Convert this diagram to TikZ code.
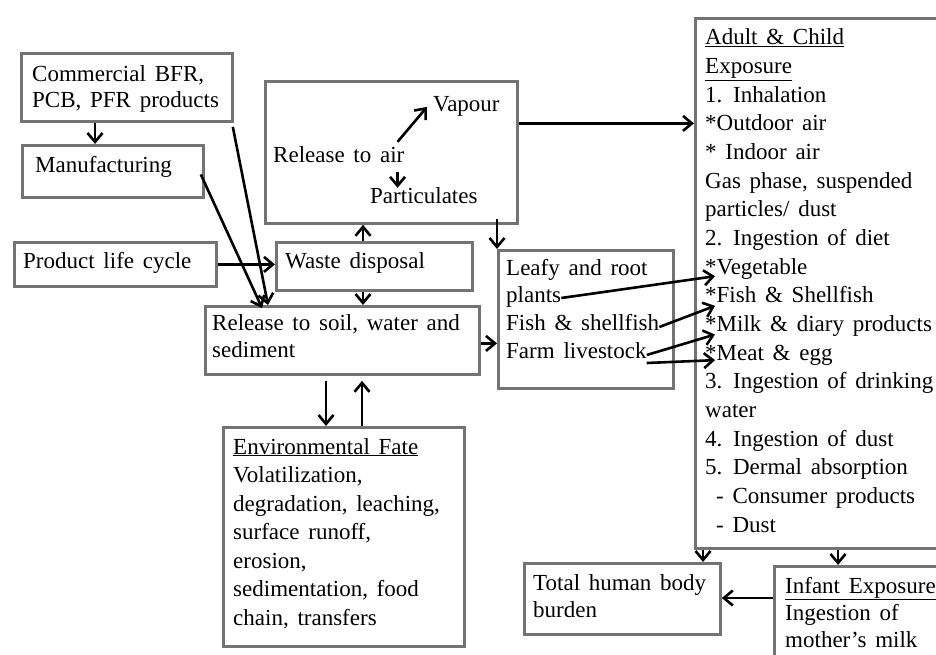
\documentclass[tikz,border=0pt]{standalone}
\usepackage{fontspec}
\setmainfont{Liberation Serif}
\usetikzlibrary{arrows.meta}
\tikzset{>={Straight Barb[length=9pt,width=15pt]}}
\newcommand\widesp{\spaceskip=0.38em\relax}

\begin{document}
\begin{tikzpicture}[x=1pt, y=-1pt,
  box/.style={draw=black!55, line width=2.8pt, anchor=north west, inner sep=0pt},
  txt/.style={anchor=base west, inner sep=0pt, align=left, font=\fontsize{23}{28.6}\selectfont\widesp},
  arr/.style={->, line width=2.6pt}]
  \useasboundingbox (0,0) rectangle (936,655);
  \clip (0,0) rectangle (936,655);
  % boxes
  \node[box, minimum width=211pt, minimum height=68pt] (commercial) at (20,52) {};
  \node[box, minimum width=181pt, minimum height=52pt] (manuf) at (21,144) {};
  \node[box, minimum width=202pt, minimum height=44pt] (product) at (13,241) {};
  \node[box, minimum width=252pt, minimum height=142pt] (air) at (264,80) {};
  \node[box, minimum width=196pt, minimum height=48pt] (waste) at (275,241) {};
  \node[box, minimum width=274pt, minimum height=68pt] (soil) at (204,305) {};
  \node[box, minimum width=241pt, minimum height=219pt] (envfate) at (222,426) {};
  \node[box, minimum width=175pt, minimum height=138pt] (leafy) at (497,249) {};
  \node[box, minimum width=260pt, minimum height=530pt] (adult) at (694,17) {};
  \node[box, minimum width=196pt, minimum height=71pt] (total) at (523,562) {};
  \node[box, minimum width=180pt, minimum height=110pt] (infant) at (773,565) {};
  % texts (multi-line nodes sit on their last baseline)
  \node[txt, font=\fontsize{23}{26}\selectfont\widesp] (commercialtxt) at (32,108) {Commercial\hspace{9pt}BFR,\\PCB, PFR products};
  \node[txt] (maniftxt) at (35,172) {Manufacturing};
  \node[txt] (producttxt) at (23,268) {Product life cycle};
  \node[txt] (wastetxt) at (285,268) {Waste disposal};
  \node[txt] (relair) at (273,163) {Release to air};
  \node[txt] (vapour) at (433,112) {Vapour};
  \node[txt] (partic) at (370,204) {Particulates};
  \node[txt, font=\fontsize{23}{27}\selectfont\widesp] (soiltxt) at (212,357) {Release to soil, water and\\sediment};
  \node[txt] (leafy1) at (506,275) {Leafy and root};
  \node[txt] (plants) at (506,302) {plants};
  \node[txt] (fish) at (506,330) {Fish \& shellfish};
  \node[txt] (farm) at (506,358) {Farm livestock};
  \foreach \t [count=\i] in {\underline{Adult \& Child}, \underline{Exposure},
      1. Inhalation, *Outdoor air, * Indoor air, {Gas phase, suspended},
      particles/ dust, 2. Ingestion of diet, *Vegetable, *Fish \& Shellfish,
      *Milk \& diary products, *Meat \& egg, 3. Ingestion of drinking, water,
      4. Ingestion of dust, 5. Dermal absorption,
      \hspace*{11pt}- Consumer products, \hspace*{11pt}- Dust}
    \node[txt] (a\i) at (705,{45+28.65*(\i-1)}) {\t};
  \node[txt, font=\fontsize{23}{28.5}\selectfont\widesp] (envtxt) at (233,625) {\underline{Environmental Fate}\\Volatilization,\\degradation, leaching,\\surface runoff,\\erosion,\\sedimentation, food\\chain, transfers};
  \node[txt, font=\fontsize{23}{27}\selectfont\widesp] (totaltxt) at (533,617) {Total human body\\burden};
  \node[txt, font=\fontsize{23}{27}\selectfont\widesp] (infanttxt) at (785,647) {\underline{Infant Exposure}\\Ingestion of\\mother’s milk};
  % connectors
  \draw[arr] ([xshift=75pt]commercial.south west) -- ([xshift=74pt]manuf.north west);
  \draw[arr] ([xshift=-1pt,yshift=-4pt]commercial.south east) -- ([xshift=64pt]soil.north west);
  \draw[arr] ([xshift=-4pt,yshift=-3pt]manuf.east) -- ([xshift=58pt,yshift=-3pt]soil.north west);
  \draw[arr] (product.east) -- (product.east -| waste.west);
  \draw[arr] ([xshift=88pt]waste.north west) coordinate (wu) -- (wu |- air.south);
  \draw[arr] ([xshift=88pt]waste.south west) coordinate (wd) -- (wd |- soil.north);
  \draw[arr] ([xshift=-7pt,yshift=5pt]relair.north east) -- ([xshift=-6pt]vapour.west);
  \draw[arr] ([xshift=-7pt,yshift=-9pt]relair.south east) coordinate (ra) -- (ra |- partic.north);
  \draw[arr] ([yshift=29pt]air.east) coordinate (ae) -- (ae -| adult.west);
  \coordinate (al) at (leafy.north west |- air.south);
  \draw[arr] ([yshift=6pt]al) -- (leafy.north west);
  \draw[arr] ([yshift=-3pt]soil.east) coordinate (se) -- (se -| leafy.west);
  \draw[arr] ([xshift=122pt,yshift=-5pt]soil.south west) coordinate (sd) -- (sd |- envfate.north);
  \draw[arr] ([xshift=140pt]envfate.north west) coordinate (eu) -- ([yshift=-5pt]eu |- soil.south);
  \draw[arr] ([yshift=4pt]plants.base east) -- ([xshift=10pt,yshift=-2pt]a9.base west);
  \draw[arr] ([yshift=3pt]fish.base east) -- ([xshift=10pt,yshift=-3pt]a10.base west);
  \draw[arr] ([yshift=3pt]farm.base east) -- ([xshift=10pt,yshift=-3pt]a11.base west);
  \draw[arr] ([yshift=-5pt]farm.base east) -- ([xshift=10pt]a12.base west);
  \draw[arr] ([xshift=9pt]adult.south west) coordinate (at) -- (at |- total.north);
  \draw[arr] ([xshift=144pt]adult.south west) coordinate (ai) -- (ai |- infant.north);
  \draw[arr] ([yshift=-33pt]infant.north west) coordinate (iw) -- (iw -| total.east);
\end{tikzpicture}
\end{document}
